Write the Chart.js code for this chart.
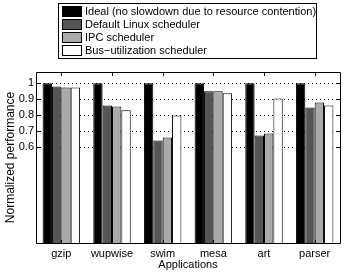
<!DOCTYPE html>
<html>
<head>
<meta charset="utf-8">
<script src="https://cdn.jsdelivr.net/npm/chart.js@4"></script>
<style>
  body { margin: 0; background: #fff; }
  #wrap { width: 346px; height: 272px; }
</style>
</head>
<body>
<div id="wrap"><canvas id="bieuDo"></canvas></div>
<script>
// du lieu doc tu hinh
const ungDung = ['gzip', 'wupwise', 'swim', 'mesa', 'art', 'parser'];
const lyTuong = [1, 1, 1, 1, 1, 1];
const linuxMacDinh = [0.98, 0.86, 0.642, 0.95, 0.673, 0.848];
const boLapLichIPC = [0.973, 0.854, 0.66, 0.95, 0.685, 0.879];
const boLapLichBus = [0.973, 0.831, 0.798, 0.9375, 0.904, 0.86];
const vachTrucY = [0.6, 0.7, 0.8, 0.9, 1];

const phongChu = { family: 'Liberation Sans, Arial, sans-serif', size: 11 };

// khung, vach chia huong vao trong va chu giai co vien
const veKhung = {
    id: 'veKhung',
    afterDatasetsDraw(chart) {
        const ctx = chart.ctx;
        const a = chart.chartArea;
        const x = chart.scales.x;
        const y = chart.scales.y;
        ctx.save();
        ctx.strokeStyle = '#000';
        ctx.lineWidth = 1;
        ctx.beginPath();
        ctx.rect(Math.round(a.left) + 0.5, Math.round(a.top) + 0.5,
            Math.round(a.right - a.left), Math.round(a.bottom - a.top));
        ctx.stroke();
        ctx.beginPath();
        ungDung.forEach((_, i) => {
            const px = Math.round(x.getPixelForValue(i)) + 0.5;
            ctx.moveTo(px, a.top);
            ctx.lineTo(px, a.top + 4);
            ctx.moveTo(px, a.bottom);
            ctx.lineTo(px, a.bottom - 3);
        });
        vachTrucY.forEach(v => {
            const py = Math.round(y.getPixelForValue(v)) + 0.5;
            ctx.moveTo(a.left, py);
            ctx.lineTo(a.left + 4, py);
            ctx.moveTo(a.right, py);
            ctx.lineTo(a.right - 4, py);
        });
        ctx.stroke();
        ctx.restore();
    },
    afterDraw(chart) {
        const ctx = chart.ctx;
        ctx.save();
        ctx.strokeStyle = '#000';
        ctx.lineWidth = 1;
        ctx.fillStyle = '#fff';
        ctx.fillRect(58, 3, 258, 55);
        ctx.strokeRect(58.5, 3.5, 258, 55);
        ctx.font = '11px ' + phongChu.family;
        ctx.textBaseline = 'middle';
        chart.data.datasets.forEach((ds, i) => {
            const cy = 11 + i * 13;
            ctx.fillStyle = ds.backgroundColor;
            ctx.fillRect(62, cy - 5, 19, 10);
            ctx.strokeRect(62.5, cy - 4.5, 19, 10);
            ctx.fillStyle = '#000';
            ctx.fillText(ds.label, 85, cy + 0.5);
        });
        ctx.restore();
    }
};

function taoCot(nhan, giaTri, mau) {
    return {
        label: nhan,
        data: giaTri,
        backgroundColor: mau,
        borderColor: '#000',
        borderWidth: 1,
        categoryPercentage: 0.74,
        barPercentage: 1
    };
}

new Chart(document.getElementById('bieuDo').getContext('2d'), {
    type: 'bar',
    data: {
        labels: ungDung,
        datasets: [
            taoCot('Ideal (no slowdown due to resource contention)', lyTuong, '#000000'),
            taoCot('Default Linux scheduler', linuxMacDinh, '#555555'),
            taoCot('IPC scheduler', boLapLichIPC, '#aaaaaa'),
            taoCot('Bus\u2212utilization scheduler', boLapLichBus, '#ffffff')
        ]
    },
    plugins: [veKhung],
    options: {
        responsive: true,
        maintainAspectRatio: false,
        animation: false,
        layout: { padding: { top: 72, right: 6, left: 0, bottom: 0 } },
        plugins: {
            legend: { display: false },
            tooltip: { enabled: false }
        },
        scales: {
            x: {
                grid: { display: false, drawTicks: false },
                border: { display: false },
                ticks: { color: '#000', font: phongChu, padding: 4, maxRotation: 0 },
                title: {
                    display: true,
                    text: 'Applications',
                    color: '#000',
                    font: phongChu,
                    padding: { top: 0, bottom: 0 }
                },
                afterFit(scale) { scale.height = 29; }
            },
            y: {
                min: 0,
                max: 1.07,
                afterBuildTicks(scale) {
                    scale.ticks = vachTrucY.map(v => ({ value: v }));
                },
                grid: {
                    color: '#000',
                    lineWidth: 1,
                    drawTicks: false
                },
                border: { display: false, dash: [1, 3] },
                ticks: {
                    color: '#000',
                    font: phongChu,
                    padding: 2,
                    callback: v => String(v)
                },
                title: {
                    display: true,
                    text: 'Normalized performance',
                    color: '#000',
                    font: { family: phongChu.family, size: 12 },
                    padding: { top: 3, bottom: 0 }
                },
                afterFit(scale) { scale.width = 36; }
            }
        }
    }
});
</script>
</body>
</html>
